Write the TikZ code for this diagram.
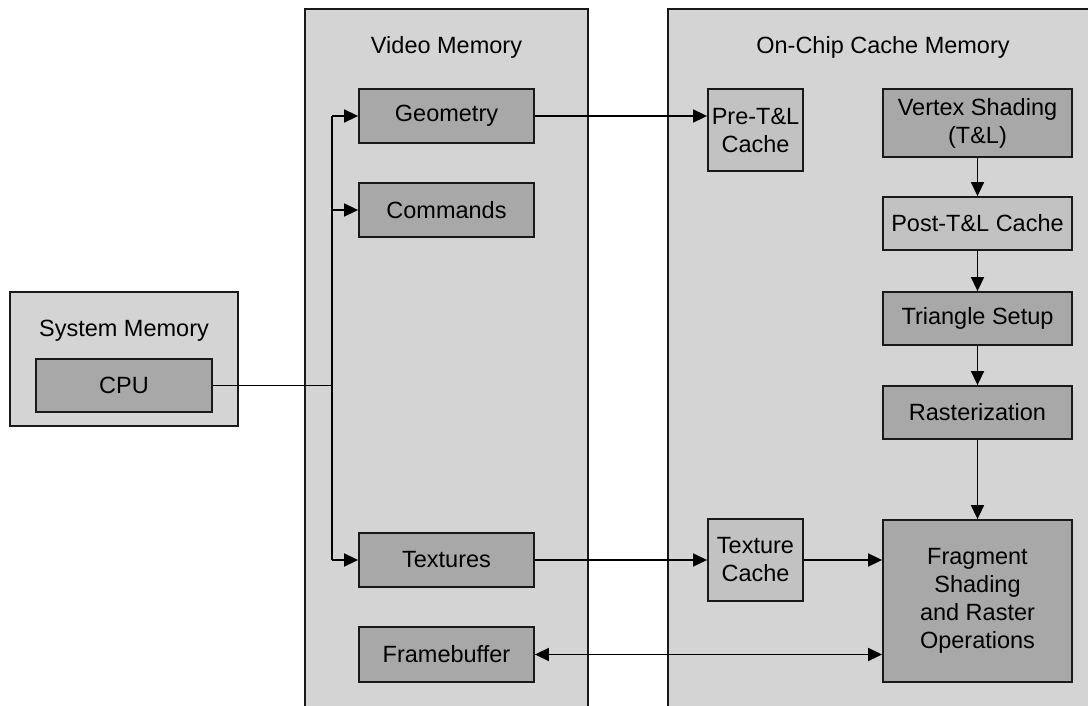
\documentclass[tikz,border=0pt]{standalone}
\usepackage{fontspec}
\setmainfont{Liberation Sans}
\usetikzlibrary{arrows.meta}
\definecolor{regionfill}{RGB}{212,212,212}
\definecolor{cachefill}{RGB}{194,194,194}
\definecolor{unitfill}{RGB}{168,168,168}
\tikzset{
  region/.style={draw=black!90, line width=1.8pt, fill=regionfill, rectangle, inner sep=0pt},
  unit/.style={draw=black!90, line width=1.8pt, fill=unitfill, rectangle, inner sep=0pt,
    align=center, font=\fontsize{23.5}{28}\selectfont},
  cachebox/.style={unit, fill=cachefill},
  title/.style={font=\fontsize{23.5}{28}\selectfont, inner sep=0pt},
  link/.style={line width=1.6pt},
  arr/.style={link, -{Triangle[length=14pt,width=13pt]}},
  biarr/.style={link, {Triangle[length=14pt,width=13pt]}-{Triangle[length=14pt,width=13pt]}}
}
\begin{document}
\begin{tikzpicture}[x=1pt,y=-1pt]
\useasboundingbox (0,0) rectangle (1088,706);
\clip (0,0) rectangle (1088,706);
\fill[white] (0,0) rectangle (1088,706);

% memory regions
\node[region, minimum width=228pt, minimum height=134pt] (sysmem) at (124,359) {};
\node[region, minimum width=283pt, minimum height=740pt] (vidmem) at (446.5,379) {};
\node[region, minimum width=430pt, minimum height=740pt] (chipmem) at (883,379) {};

\node[title] (systitle) at (124,331) {System Memory};
\node[title] (vidtitle) at (446.5,47) {Video Memory};
\node[title] (chiptitle) at (883,47) {On-Chip Cache Memory};

% system side
\node[unit, minimum width=176pt, minimum height=53pt] (cpu) at (124,385.5) {CPU};

% video memory contents
\node[unit, minimum width=175pt, minimum height=54pt] (geo) at (446.5,116) {Geometry};
\node[unit, minimum width=175pt, minimum height=54pt] (cmd) at (446.5,210) {Commands};
\node[unit, minimum width=175pt, minimum height=54pt] (tex) at (446.5,560) {Textures};
\node[unit, minimum width=175pt, minimum height=55pt] (fb) at (446.5,654.5) {Framebuffer};

% on-chip caches and pipeline stages
\node[cachebox, minimum width=95pt, minimum height=82pt] (pretl) at (755.5,130) {Pre-T\&L\\Cache};
\node[cachebox, minimum width=95pt, minimum height=82pt] (tcache) at (755.5,560) {Texture\\Cache};
\node[unit, minimum width=189pt, minimum height=68pt] (vs) at (977.5,123) {Vertex Shading\\(T\&L)};
\node[cachebox, minimum width=189pt, minimum height=53pt] (posttl) at (977.5,223.5) {Post-T\&L Cache};
\node[unit, minimum width=189pt, minimum height=53pt] (tri) at (977.5,318.5) {Triangle Setup};
\node[unit, minimum width=189pt, minimum height=53pt] (rast) at (977.5,412.5) {Rasterization};
\node[unit, minimum width=189pt, minimum height=162pt] (frag) at (977.5,601) {Fragment\\Shading\\and Raster\\Operations};

% bus from the CPU into video memory
\coordinate (bus) at (332,0);
\draw[link] (cpu.east) -- (cpu.east -| bus);
\draw[link] (bus |- geo) -- (bus |- tex);
\draw[arr] (bus |- geo) -- (geo.west);
\draw[arr] (bus |- cmd) -- (cmd.west);
\draw[arr] (bus |- tex) -- (tex.west);

% video memory to chip
\draw[arr] (geo.east) -- (geo.east -| pretl.west);
\draw[arr] (tex.east) -- (tex.east -| tcache.west);
\draw[arr] (tcache.east) -- (tcache.east -| frag.west);
\draw[biarr] (fb.east) -- (fb.east -| frag.west);

% pipeline
\draw[arr] (vs.south) -- (posttl.north);
\draw[arr] (posttl.south) -- (tri.north);
\draw[arr] (tri.south) -- (rast.north);
\draw[arr] (rast.south) -- (frag.north);
\end{tikzpicture}
\end{document}
